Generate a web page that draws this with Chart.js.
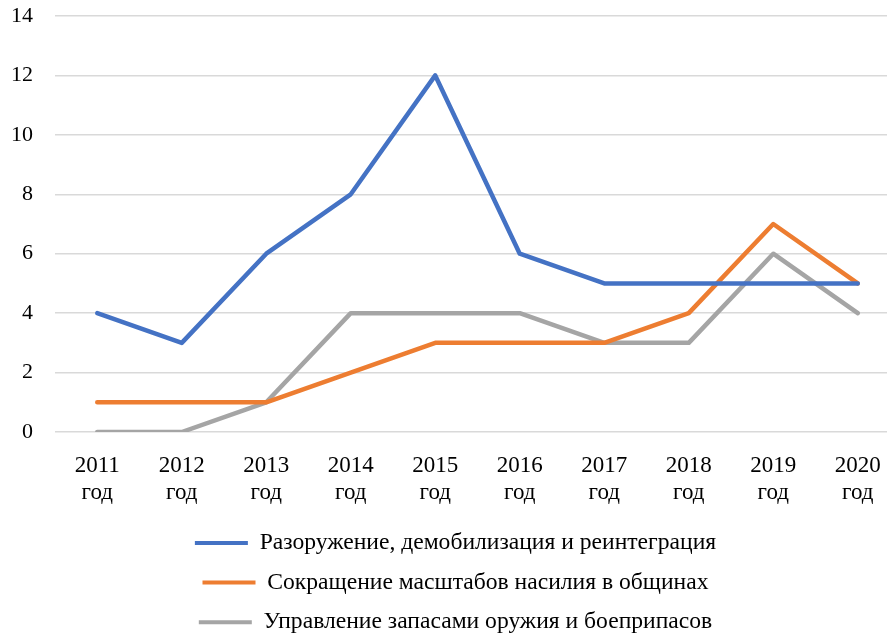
<!DOCTYPE html>
<html><head><meta charset="utf-8">
<script src="https://cdn.jsdelivr.net/npm/chart.js@4"></script>
<style>html,body{margin:0;padding:0;overflow:hidden;background:#fff;width:887px;height:636px}
#wrap{width:900px;height:636px;position:relative}</style>
</head><body><div id="wrap"><canvas id="c"></canvas></div>
<script>
const categories = [["2011","год"],["2012","год"],["2013","год"],["2014","год"],["2015","год"],["2016","год"],["2017","год"],["2018","год"],["2019","год"],["2020","год"]];
const seriesNames = ["Разоружение, демобилизация и реинтеграция","Сокращение масштабов насилия в общинах","Управление запасами оружия и боеприпасов"];
const ddr = [4,3,6,8,12,6,5,5,5,5];
const violence = [1,1,1,2,3,3,3,4,7,5];
const stockpile = [0,0,1,4,4,4,3,3,6,4];
const colors = ["#4472C4","#ED7D31","#A5A5A5"];
const font = "'Liberation Serif','Times New Roman',serif";
const mk = (i, d) => ({label: seriesNames[i], data: d, borderColor: colors[i], backgroundColor: colors[i], borderWidth: 4.5, pointRadius: 0, borderCapStyle: 'round', borderJoinStyle: 'round', tension: 0});
const legendTrim = {id: 'legendTrim', beforeLayout(chart) {
  const lg = chart.legend;
  if (lg && !lg._trimmed) { const f = lg.fit.bind(lg); lg.fit = function () { f(); this.height -= 8; }; lg._trimmed = true; }
}};
new Chart(document.getElementById('c'), {
  type: 'line',
  data: {labels: categories, datasets: [mk(0, ddr), mk(1, violence), mk(2, stockpile)]},
  plugins: [legendTrim],
  options: {
    responsive: true, maintainAspectRatio: false, animation: false,
    layout: {padding: {top: 0, left: 11, right: 0, bottom: 0}},
    plugins: {
      tooltip: {enabled: false},
      legend: {position: 'bottom',
        labels: {font: {family: font, size: 23.6}, color: '#000', boxWidth: 53, boxHeight: 4, padding: 16,
          generateLabels: (chart) => Chart.defaults.plugins.legend.labels.generateLabels(chart).map(l => Object.assign(l, {lineWidth: 0}))}}
    },
    scales: {
      x: {offset: true, grid: {display: false}, border: {display: false},
          ticks: {font: {family: font, size: 23}, color: '#000', padding: 12, maxRotation: 0, autoSkip: false},
          afterFit: (s) => { s.paddingLeft = 0; s.paddingRight = 0; s.height -= 4; }},
      y: {min: 0, max: 14, grid: {color: '#d9d9d9', lineWidth: 1.5, drawTicks: false}, border: {display: false},
          ticks: {stepSize: 2, font: {family: font, size: 22}, color: '#000', padding: 22},
          afterFit: (s) => { s.paddingTop = 16; s.paddingBottom = 0; s.width = 44; }}
    }
  }
});
</script></body></html>
